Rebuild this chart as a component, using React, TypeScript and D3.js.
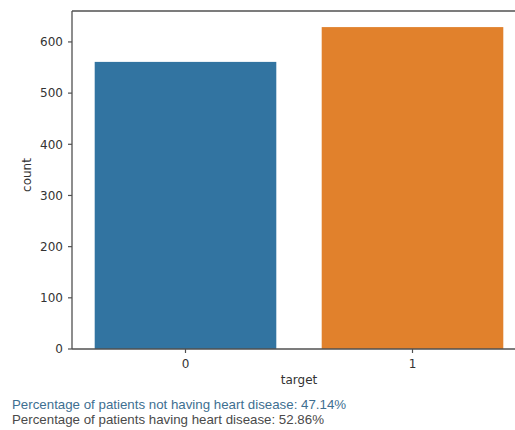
import React from "react";
import * as d3 from "d3";

const categories = ["0", "1"];
const counts = [561, 629];
const colors = ["#3274A1", "#E1812C"];
const yTicks = [0, 100, 200, 300, 400, 500, 600];
const notes = [
  "Percentage of patients not having heart disease: 47.14%",
  "Percentage of patients having heart disease: 52.86%",
];
const noteColors = ["#3e6f91", "#4a4a4a"];

export default function App() {
  const W = 515, H = 430;
  const left = 72, right = 526, top = 11, bottom = 349;
  const x = d3.scaleBand<string>().domain(categories).range([left, right]).paddingInner(0.2).paddingOuter(0.1);
  const y = d3.scaleLinear().domain([0, d3.max(counts)! * 1.05]).range([bottom, top]);
  const axisFont = "DejaVu Sans, sans-serif";
  const spine = "#505050";
  return (
    <svg width={W} height={H} style={{ position: "absolute", left: 0, top: 0, background: "#fff" }}>
      {categories.map((c, i) => (
        <rect key={c} x={x(c)} y={y(counts[i])} width={x.bandwidth()} height={bottom - y(counts[i])} fill={colors[i]} />
      ))}
      <line x1={left} x2={W} y1={top} y2={top} stroke={spine} strokeWidth={1.3} />
      <line x1={left} x2={W} y1={bottom} y2={bottom} stroke={spine} strokeWidth={1.3} />
      <line x1={left} x2={left} y1={top} y2={bottom} stroke={spine} strokeWidth={1.3} />
      {yTicks.map((t) => (
        <g key={t}>
          <line x1={left - 4} x2={left} y1={y(t)} y2={y(t)} stroke={spine} strokeWidth={1.2} />
          <text x={left - 9} y={y(t)} dy="0.36em" textAnchor="end" fontFamily={axisFont} fontSize={12} fill="#333">{t}</text>
        </g>
      ))}
      {categories.map((c) => {
        const cx = x(c)! + x.bandwidth() / 2;
        return (
          <g key={c}>
            <line x1={cx} x2={cx} y1={bottom} y2={bottom + 4} stroke={spine} strokeWidth={1.2} />
            <text x={cx} y={368} textAnchor="middle" fontFamily={axisFont} fontSize={12} fill="#333">{c}</text>
          </g>
        );
      })}
      <text x={(left + right) / 2} y={384} textAnchor="middle" fontFamily={axisFont} fontSize={12} fill="#333">target</text>
      <text transform="translate(31,175) rotate(-90)" textAnchor="middle" fontFamily={axisFont} fontSize={12} fill="#333">count</text>
      {notes.map((n, i) => (
        <text key={i} x={12} y={409 + i * 15} fontFamily="Liberation Sans, Arial, sans-serif" fontSize={13.3} fill={noteColors[i]}>{n}</text>
      ))}
    </svg>
  );
}
